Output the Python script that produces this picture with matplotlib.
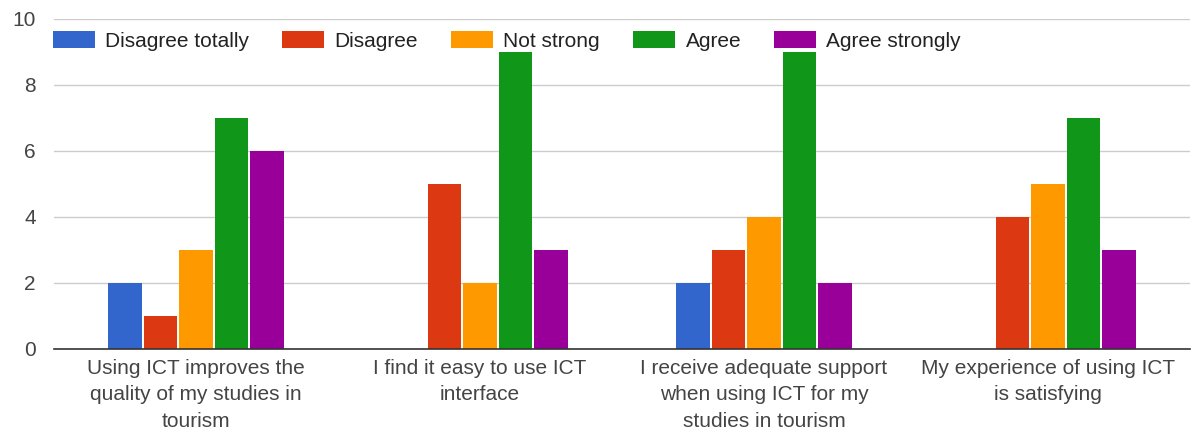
import numpy as np
import matplotlib.pyplot as plt

statements = [
    "Using ICT improves the\nquality of my studies in\ntourism",
    "I find it easy to use ICT\ninterface",
    "I receive adequate support\nwhen using ICT for my\nstudies in tourism",
    "My experience of using ICT\nis satisfying",
]
answers = ["Disagree totally", "Disagree", "Not strong", "Agree", "Agree strongly"]
disagree_totally = [2, 0, 2, 0]
disagree = [1, 5, 3, 4]
not_strong = [3, 2, 4, 5]
agree = [7, 9, 9, 7]
agree_strongly = [6, 3, 2, 3]
colors = ["#3366cc", "#dc3912", "#ff9900", "#109618", "#990099"]

plt.rcParams["font.family"] = ["Liberation Sans", "DejaVu Sans"]

fig = plt.figure(figsize=(11.92, 4.30), dpi=100)
ax = fig.add_axes([54 / 1192, 81 / 430, 1136 / 1192, 330 / 430])

series = [disagree_totally, disagree, not_strong, agree, agree_strongly]
x = np.arange(len(statements))
slot = 0.125
for i, (vals, name, c) in enumerate(zip(series, answers, colors)):
    ax.bar(x + (i - 2) * slot, vals, width=slot - 0.008, color=c, label=name, zorder=3)

ax.set_xlim(-0.5, len(statements) - 0.5)
ax.set_ylim(0, 10)
ax.set_yticks(range(0, 11, 2))
ax.grid(axis="y", color="#cccccc", linewidth=1, zorder=0)
for s in ["top", "right", "left"]:
    ax.spines[s].set_visible(False)
ax.spines["bottom"].set_color("#333333")
ax.spines["bottom"].set_linewidth(1.2)
ax.spines["bottom"].set_zorder(4)

ax.set_xticks(x)
ax.set_xticklabels(statements, linespacing=1.5)
ax.tick_params(axis="both", length=0, labelsize=15, labelcolor="#444444")
ax.tick_params(axis="x", pad=7)
ax.tick_params(axis="y", pad=13)
for lab in ax.get_yticklabels():
    lab.set_horizontalalignment("right")

fig.legend(loc="center left", bbox_to_anchor=(53 / 1192, 1 - 41 / 430), ncol=5,
           frameon=False, fontsize=15, borderaxespad=0, borderpad=0,
           handlelength=2.0, handleheight=0.9, handletextpad=0.5,
           columnspacing=1.6, labelcolor="#222222")

fig.savefig("out.png", dpi=100, facecolor="white")
